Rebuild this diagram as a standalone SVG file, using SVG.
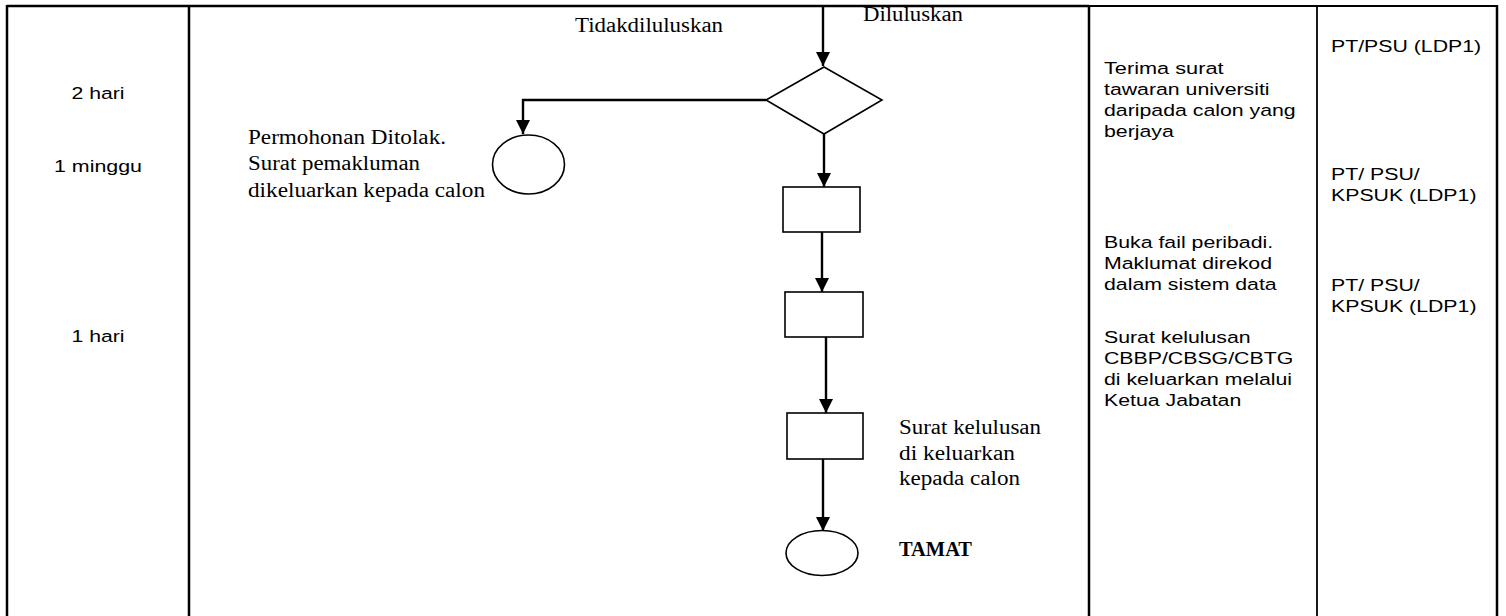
<svg xmlns="http://www.w3.org/2000/svg" width="1506" height="616" viewBox="0 0 1506 616">
<style>
.grid{stroke:#000;fill:none}
.thick{stroke-width:2.5}
.thin{stroke-width:1.8}
.shape{fill:#fff;stroke:#000;stroke-width:1.6}
.conn{stroke:#000;stroke-width:2.4;fill:none}
.sans{font-family:"Liberation Sans",Arial,sans-serif;font-size:16.8px;fill:#000}
.serif{font-family:"Liberation Serif","Times New Roman",serif;font-size:20px;fill:#000}
.bold{font-weight:bold}
</style>
<defs>
<marker id="arr" markerUnits="userSpaceOnUse" markerWidth="15" markerHeight="15" refX="14" refY="7" orient="auto">
<path d="M0,0 L14,7 L0,14 z" fill="#000"/>
</marker>
</defs>
<rect width="1506" height="616" fill="#fff"/>
<g id="table">
<line class="grid thick" x1="7" y1="6" x2="1089" y2="6"/>
<line class="grid thin" x1="1089" y1="6" x2="1498" y2="6"/>
<line class="grid thick" x1="7" y1="5" x2="7" y2="616"/>
<line class="grid thick" x1="189" y1="5" x2="189" y2="616"/>
<line class="grid thick" x1="1089" y1="5" x2="1089" y2="616"/>
<line class="grid thin" x1="1317" y1="5" x2="1317" y2="616"/>
<line class="grid thick" x1="1497" y1="5" x2="1497" y2="616"/>
</g>
<g id="time-col">
<text class="sans" x="98" y="99" text-anchor="middle" textLength="53" lengthAdjust="spacingAndGlyphs">2 hari</text>
<text class="sans" x="98" y="172" text-anchor="middle" textLength="88" lengthAdjust="spacingAndGlyphs">1 minggu</text>
<text class="sans" x="98" y="342" text-anchor="middle" textLength="53" lengthAdjust="spacingAndGlyphs">1 hari</text>
</g>
<g id="connectors">
<line class="conn" x1="823" y1="6" x2="823" y2="66" marker-end="url(#arr)"/>
<polyline class="conn" points="766,100 523,100 523,134" marker-end="url(#arr)"/>
<line class="conn" x1="824" y1="134" x2="824" y2="187" marker-end="url(#arr)"/>
<line class="conn" x1="822" y1="232" x2="822" y2="292" marker-end="url(#arr)"/>
<line class="conn" x1="826" y1="337" x2="826" y2="413" marker-end="url(#arr)"/>
<line class="conn" x1="823" y1="459" x2="823" y2="531" marker-end="url(#arr)"/>
</g>
<g id="decision">
<polygon class="shape" points="824,67 882,100 824,134 766,100"/>
</g>
<g id="rejected">
<ellipse class="shape" cx="528.5" cy="164.5" rx="36" ry="29.5"/>
</g>
<g id="box1"><rect class="shape" x="783" y="187" width="77" height="45"/></g>
<g id="box2"><rect class="shape" x="785" y="292" width="78" height="45"/></g>
<g id="box3"><rect class="shape" x="787" y="413" width="76" height="46"/></g>
<g id="end"><ellipse class="shape" cx="822" cy="553" rx="36" ry="22.5"/></g>
<g id="flow-labels">
<text class="serif" x="575" y="32" textLength="148" lengthAdjust="spacingAndGlyphs">Tidakdiluluskan</text>
<text class="serif" x="863" y="21" textLength="100" lengthAdjust="spacingAndGlyphs">Diluluskan</text>
<text class="serif" x="248" y="144" textLength="198" lengthAdjust="spacingAndGlyphs">Permohonan Ditolak.</text>
<text class="serif" x="248" y="170" textLength="172" lengthAdjust="spacingAndGlyphs">Surat pemakluman</text>
<text class="serif" x="248" y="197" textLength="237" lengthAdjust="spacingAndGlyphs">dikeluarkan kepada calon</text>
<text class="serif" x="899" y="434" textLength="142" lengthAdjust="spacingAndGlyphs">Surat kelulusan</text>
<text class="serif" x="899" y="460" textLength="116" lengthAdjust="spacingAndGlyphs">di keluarkan</text>
<text class="serif" x="899" y="485" textLength="121" lengthAdjust="spacingAndGlyphs">kepada calon</text>
<text class="serif bold" x="899" y="556" textLength="73" lengthAdjust="spacingAndGlyphs">TAMAT</text>
</g>
<g id="activity-col">
<text class="sans" x="1104" y="74" textLength="119.5" lengthAdjust="spacingAndGlyphs">Terima surat</text>
<text class="sans" x="1104" y="95" textLength="165.6" lengthAdjust="spacingAndGlyphs">tawaran universiti</text>
<text class="sans" x="1104" y="116" textLength="191.7" lengthAdjust="spacingAndGlyphs">daripada calon yang</text>
<text class="sans" x="1104" y="137" textLength="69.8" lengthAdjust="spacingAndGlyphs">berjaya</text>
<text class="sans" x="1104" y="248" textLength="169.2" lengthAdjust="spacingAndGlyphs">Buka fail peribadi.</text>
<text class="sans" x="1104" y="269" textLength="168" lengthAdjust="spacingAndGlyphs">Maklumat direkod</text>
<text class="sans" x="1104" y="290" textLength="172.7" lengthAdjust="spacingAndGlyphs">dalam sistem data</text>
<text class="sans" x="1104" y="343" textLength="146.7" lengthAdjust="spacingAndGlyphs">Surat kelulusan</text>
<text class="sans" x="1104" y="364" textLength="189.2" lengthAdjust="spacingAndGlyphs">CBBP/CBSG/CBTG</text>
<text class="sans" x="1104" y="385" textLength="188.1" lengthAdjust="spacingAndGlyphs">di keluarkan melalui</text>
<text class="sans" x="1104" y="406" textLength="137.3" lengthAdjust="spacingAndGlyphs">Ketua Jabatan</text>
</g>
<g id="responsible-col">
<text class="sans" x="1331" y="52" textLength="150.2" lengthAdjust="spacingAndGlyphs">PT/PSU (LDP1)</text>
<text class="sans" x="1331" y="180" textLength="88.7" lengthAdjust="spacingAndGlyphs">PT/ PSU/</text>
<text class="sans" x="1331" y="201" textLength="145.5" lengthAdjust="spacingAndGlyphs">KPSUK (LDP1)</text>
<text class="sans" x="1331" y="291" textLength="88.7" lengthAdjust="spacingAndGlyphs">PT/ PSU/</text>
<text class="sans" x="1331" y="312" textLength="145.5" lengthAdjust="spacingAndGlyphs">KPSUK (LDP1)</text>
</g>
</svg>
